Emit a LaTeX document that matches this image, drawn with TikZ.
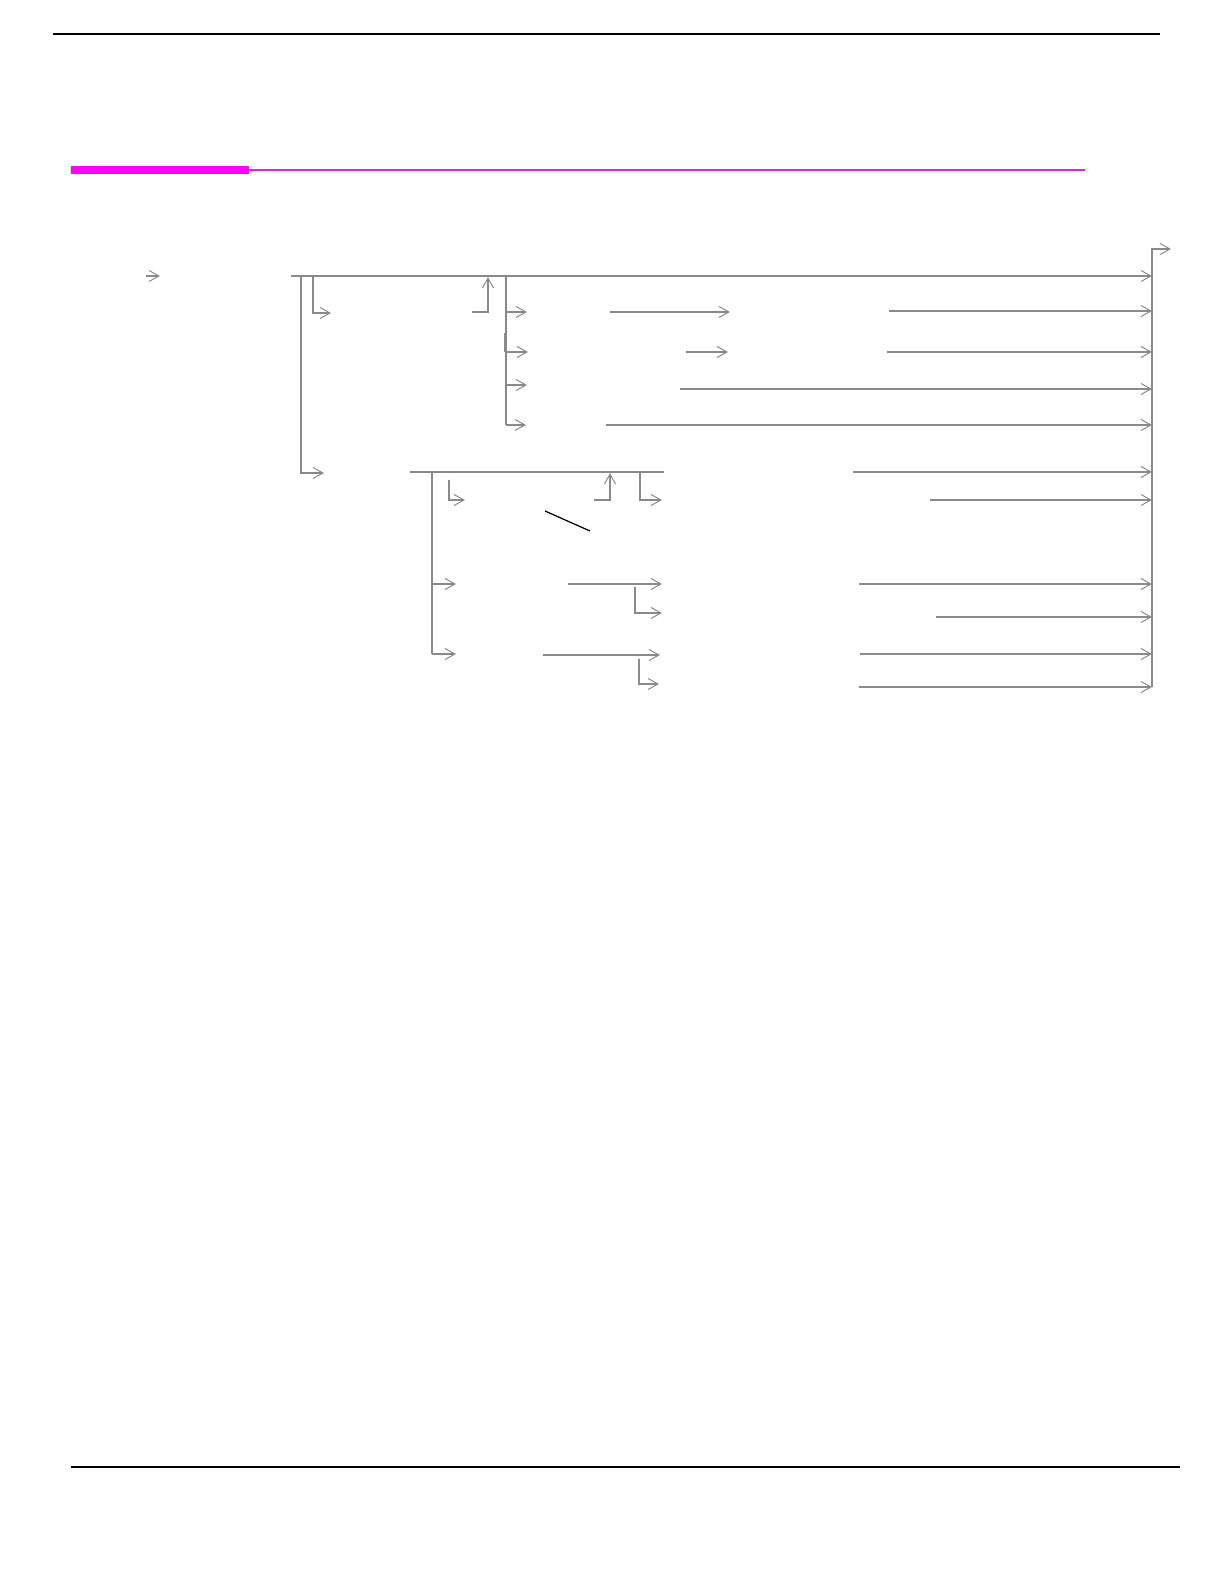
\documentclass[tikz,border=0pt]{standalone}
\usetikzlibrary{arrows.meta}
\definecolor{rail}{RGB}{138,138,138}
\definecolor{magbar}{RGB}{255,0,255}
\definecolor{magline}{RGB}{214,40,214}
\tikzset{
  railline/.style={draw=rail, line width=0.55pt},
  railarrow/.style={railline, -{Straight Barb[length=5pt,width=5.5pt,line width=0.5pt]}},
  rule/.style={draw=black, line width=0.75pt},
}
\begin{document}
\begin{tikzpicture}[x=0.5pt,y=-0.5pt]
\useasboundingbox (0,0) rectangle (1224,1582);
% page rules
\draw[rule] (53,34) -- (1160,34);
\draw[rule] (71,1467) -- (1180,1467);
\fill[magbar] (71,166) rectangle (249,174);
\draw[magline, line width=1pt] (249,170) -- (1085,170);

% entry arrow
\coordinate (in0) at (146,276);
\coordinate (in1) at (160,276);
\draw[railarrow] (in0) -- (in1);

% main line and right collector
\coordinate (m0) at (291,276);
\coordinate (cR) at (1152,276);
\draw[railarrow] (m0) -- (cR);
\coordinate (colTop) at (1152,249);
\coordinate (colBot) at (1152,687);
\coordinate (out) at (1171,249);
\draw[railarrow] (colBot) -- (colTop) -- (out);

% first-level branches
\draw[railarrow] (301,276) -- (301,473) -- (324,473);
\draw[railarrow] (313,276) -- (313,313) -- (331,313);
\draw[railarrow] (472,312) -- (488,312) -- (488,277);

% group A (x=506)
\draw[railline] (506,276) -- (506,425);
\draw[draw=rail, line width=1pt] (505,333) -- (505,352);
\draw[railarrow] (506,312) -- (527,312);
\draw[railarrow] (506,352) -- (528,352);
\draw[railarrow] (506,385) -- (527,385);
\draw[railarrow] (506,425) -- (526,425);
\draw[railarrow] (610,312) -- (730,312);
\draw[railarrow] (889,311) -- (1152,311);
\draw[railarrow] (686,352) -- (728,352);
\draw[railarrow] (887,352) -- (1152,352);
\draw[railarrow] (680,389) -- (1152,389);
\draw[railarrow] (606,425) -- (1152,425);

% group B
\draw[railline] (410,472) -- (664,472);
\draw[railline] (432,472) -- (432,654);
\draw[railarrow] (449,480) -- (449,500) -- (465,500);
\draw[railarrow] (594,500) -- (610,500) -- (610,473);
\draw[railarrow] (640,472) -- (640,500) -- (662,500);
\draw[draw=black, line width=0.6pt] (545,511) -- (590,531);
\draw[railarrow] (432,584) -- (456,584);
\draw[railarrow] (568,584) -- (662,584);
\draw[railarrow] (635,587) -- (635,613) -- (662,613);
\draw[railarrow] (432,654) -- (456,654);
\draw[railarrow] (543,655) -- (660,655);
\draw[railarrow] (639,659) -- (639,684) -- (659,684);

% lines into the collector
\draw[railarrow] (853,472) -- (1152,472);
\draw[railarrow] (930,500) -- (1152,500);
\draw[railarrow] (859,584) -- (1152,584);
\draw[railarrow] (936,617) -- (1152,617);
\draw[railarrow] (860,654) -- (1152,654);
\draw[railarrow] (859,687) -- (1152,687);
\end{tikzpicture}
\end{document}
